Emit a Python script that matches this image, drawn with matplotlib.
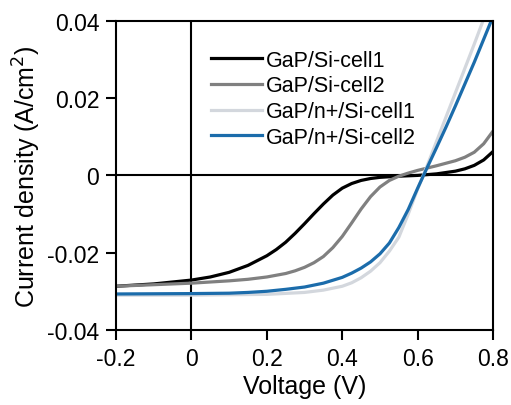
import numpy as np
import matplotlib.pyplot as plt

plt.rcParams['font.family'] = ['Liberation Sans', 'DejaVu Sans']

# voltage (V) and current density (A/cm2)
v_si1 = [-0.2, -0.1, 0.0, 0.05, 0.1, 0.15, 0.2, 0.225, 0.25, 0.275, 0.3, 0.325, 0.35, 0.375, 0.4,
         0.425, 0.45, 0.475, 0.5, 0.55, 0.6, 0.65, 0.7, 0.725, 0.75, 0.775, 0.8]
j_si1 = [-0.0287, -0.0281, -0.0271, -0.0263, -0.0251, -0.0233, -0.0208, -0.0192, -0.0173, -0.0150,
         -0.0125, -0.0099, -0.0074, -0.0051, -0.0033, -0.0021, -0.0013, -0.0008, -0.0005, -0.0002,
         0.0000, 0.0004, 0.0011, 0.0017, 0.0026, 0.0040, 0.0062]

v_si2 = [-0.2, -0.1, 0.0, 0.1, 0.15, 0.2, 0.25, 0.275, 0.3, 0.325, 0.35, 0.375, 0.4, 0.425, 0.45,
         0.475, 0.5, 0.525, 0.55, 0.575, 0.6, 0.65, 0.7, 0.725, 0.75, 0.775, 0.8]
j_si2 = [-0.0287, -0.0283, -0.0279, -0.0273, -0.0269, -0.0263, -0.0254, -0.0247, -0.0238, -0.0226,
         -0.0210, -0.0187, -0.0158, -0.0123, -0.0087, -0.0055, -0.0030, -0.0013, -0.0002, 0.0006,
         0.0013, 0.0025, 0.0038, 0.0047, 0.0060, 0.0082, 0.0115]

v_n1 = [-0.2, 0.0, 0.2, 0.3, 0.35, 0.4, 0.425, 0.45, 0.475, 0.5, 0.525, 0.55, 0.575, 0.6, 0.625,
        0.65, 0.7, 0.75, 0.78]
j_n1 = [-0.0310, -0.0310, -0.0308, -0.0303, -0.0297, -0.0287, -0.0278, -0.0265, -0.0248, -0.0226,
        -0.0196, -0.0160, -0.0100, -0.0035, 0.0025, 0.0088, 0.0214, 0.0340, 0.0418]

v_n2 = [-0.2, 0.0, 0.1, 0.15, 0.2, 0.25, 0.3, 0.35, 0.4, 0.425, 0.45, 0.475, 0.5, 0.525, 0.55,
        0.575, 0.6, 0.625, 0.65, 0.675, 0.7, 0.75, 0.8]
j_n2 = [-0.0307, -0.0306, -0.0305, -0.0303, -0.0300, -0.0295, -0.0289, -0.0279, -0.0264, -0.0253,
        -0.0240, -0.0224, -0.0203, -0.0175, -0.0135, -0.0088, -0.0033, 0.0020, 0.0072, 0.0125,
        0.0180, 0.0293, 0.0412]

labels = ['GaP/Si-cell1', 'GaP/Si-cell2', 'GaP/n+/Si-cell1', 'GaP/n+/Si-cell2']
colors = ['#000000', '#808080', '#d3d7dd', '#1b6cab']

xticks = [-0.2, 0, 0.2, 0.4, 0.6, 0.8]
xticklabels = ['-0.2', '0', '0.2', '0.4', '0.6', '0.8']
yticks = [-0.04, -0.02, 0, 0.02, 0.04]
yticklabels = ['-0.04', '-0.02', '0', '0.02', '0.04']

fig = plt.figure(figsize=(5.11, 4.06), dpi=100)
ax = fig.add_axes([0.227, 0.185, 0.738, 0.761])

ax.axhline(0, color='black', lw=1.5, zorder=1)
ax.axvline(0, color='black', lw=1.5, zorder=1)

for v, j, lab, c in zip([v_si1, v_si2, v_n1, v_n2], [j_si1, j_si2, j_n1, j_n2], labels, colors):
    ax.plot(v, j, color=c, lw=2.3, label=lab, solid_joinstyle='round', zorder=2)

ax.set_xlim(-0.2, 0.8)
ax.set_ylim(-0.04, 0.04)
ax.set_xticks(xticks)
ax.set_xticklabels(xticklabels)
ax.set_yticks(yticks)
ax.set_yticklabels(yticklabels)
ax.tick_params(direction='out', length=7, width=1.5, labelsize=16.5, colors='black', pad=5)
for s in ax.spines.values():
    s.set_linewidth(1.5)

ax.set_xlabel('Voltage (V)', fontsize=18, labelpad=3)
ax.set_ylabel('Current density (A/cm$^2$)', fontsize=18, labelpad=3)

ax.legend(loc='upper left', bbox_to_anchor=(0.228, 0.935), frameon=False, fontsize=15.5,
          handlelength=2.4, handletextpad=0.15, labelspacing=0.22, borderaxespad=0)

fig.savefig('out.png', dpi=100)
